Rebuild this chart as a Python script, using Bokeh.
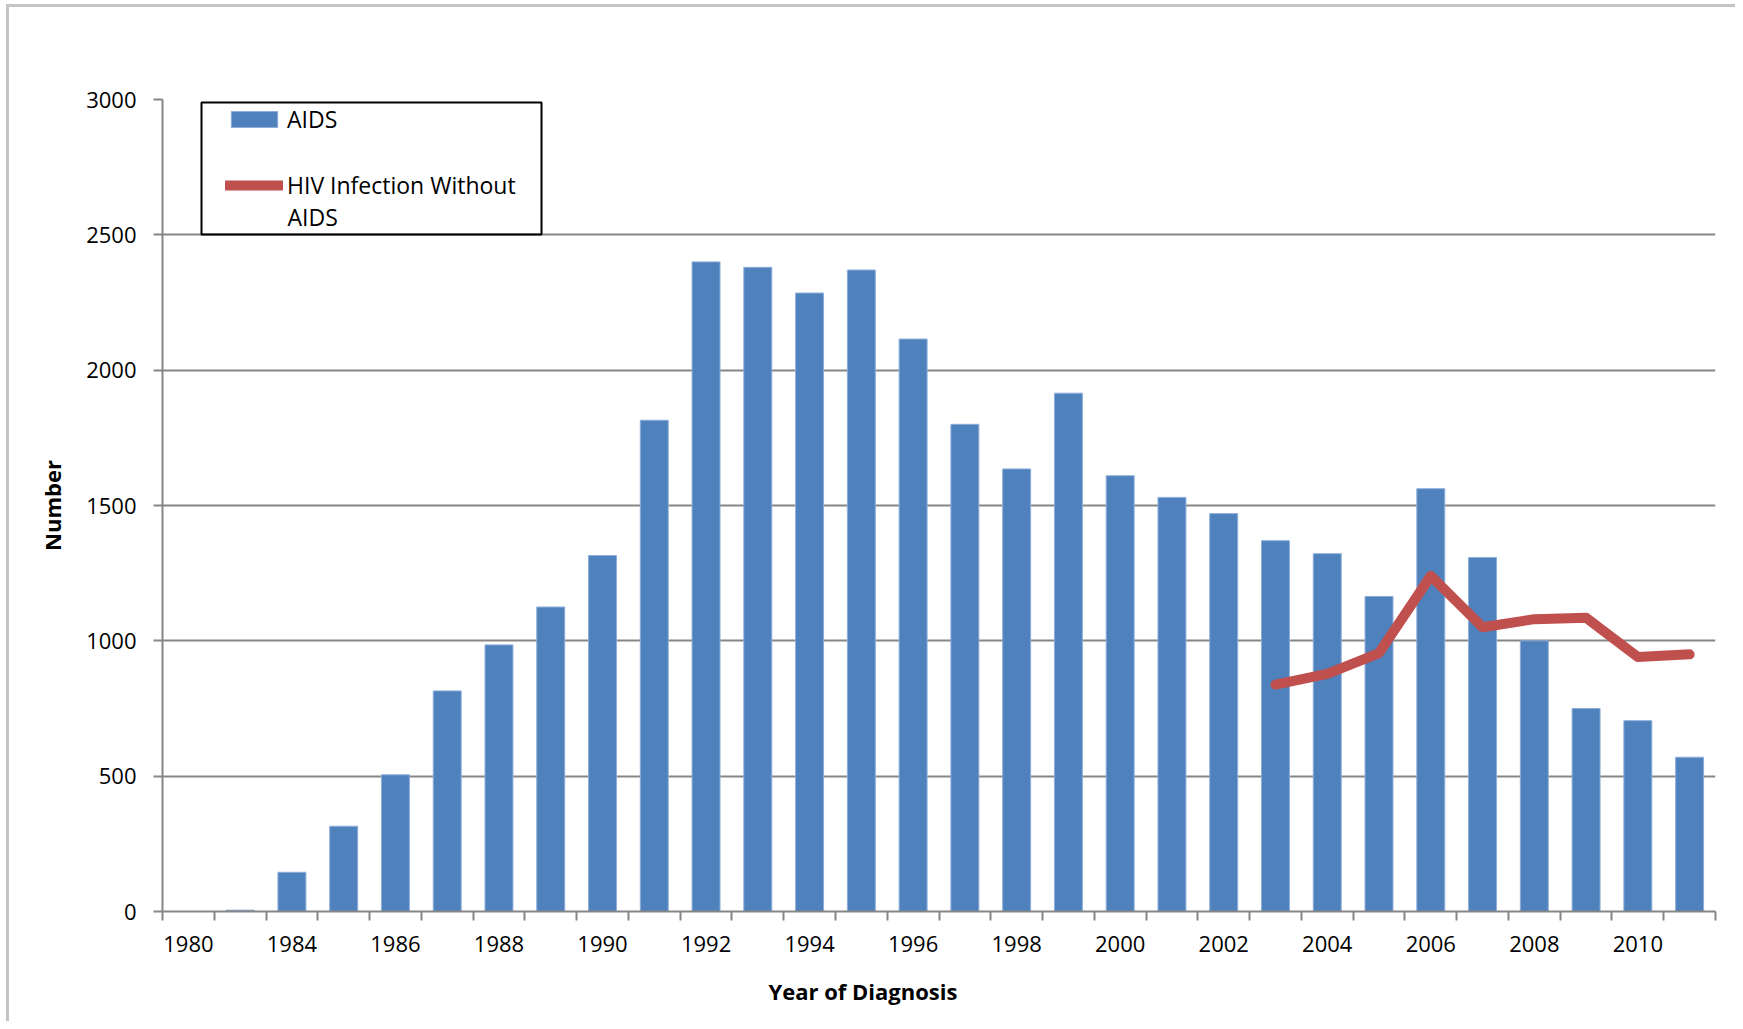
from bokeh.plotting import figure
from bokeh.models import (FactorRange, Range1d, LinearAxis, CategoricalAxis, FixedTicker,
                          Legend, LegendItem, BoxAnnotation, ColumnDataSource,
                          CustomJSTickFormatter, Label, Title)
from bokeh.embed import file_html
from bokeh.resources import INLINE

# ---- data ----
years = ["1980", "1983", "1984", "1985", "1986", "1987", "1988", "1989", "1990", "1991",
         "1992", "1993", "1994", "1995", "1996", "1997", "1998", "1999", "2000", "2001",
         "2002", "2003", "2004", "2005", "2006", "2007", "2008", "2009", "2010", "2011"]
aids = [0, 5, 145, 315, 505, 815, 985, 1125, 1315, 1815,
        2400, 2380, 2285, 2370, 2115, 1800, 1635, 1915, 1610, 1530,
        1470, 1370, 1322, 1164, 1562, 1308, 1000, 750, 705, 570]
hiv_years = ["2003", "2004", "2005", "2006", "2007", "2008", "2009", "2010", "2011"]
hiv = [838, 878, 955, 1240, 1050, 1080, 1085, 940, 950]
y_ticks = [0, 500, 1000, 1500, 2000, 2500, 3000]
hidden_labels = years[1::2]

FONT = "Open Sans"
GRAY = "#868686"

p = figure(width=1735, height=1021,
           x_range=FactorRange(factors=years, range_padding=0, factor_padding=0),
           y_range=Range1d(0, 3000),
           output_backend="svg", toolbar_location=None, x_axis_location=None,
           min_border_left=162, min_border_right=20, min_border_top=99, min_border_bottom=110)
p.outline_line_color = None
p.border_fill_color = None
p.styles = {"box-shadow": "inset 6px 0 0 0 white, inset 0 4px 0 0 white, "
                          "inset 9px 0 0 0 #C4C4C4, inset 0 7px 0 0 #C4C4C4"}
p.xgrid.visible = False
p.ygrid.grid_line_color = GRAY
p.ygrid.grid_line_width = 2
p.ygrid.ticker = FixedTicker(ticks=y_ticks)

# y axis
yax = p.yaxis[0]
yax.ticker = FixedTicker(ticks=y_ticks)
yax.axis_line_color = GRAY
yax.axis_line_width = 2
yax.major_tick_line_color = GRAY
yax.major_tick_line_width = 2
yax.major_tick_out = 9
yax.major_tick_in = 0
yax.minor_tick_line_color = None
yax.major_label_text_font = FONT
yax.major_label_text_font_size = "22px"
yax.major_label_text_color = "black"
yax.major_label_standoff = 17
yax.axis_label = "Number"
yax.axis_label_text_font = FONT
yax.axis_label_text_font_size = "22px"
yax.axis_label_text_font_style = "bold"
yax.axis_label_text_color = "black"
yax.axis_label_standoff = 16

# x axis: boundary ticks
tick_axis = LinearAxis(ticker=FixedTicker(ticks=list(range(len(years) + 1))),
                       formatter=CustomJSTickFormatter(code="return ''"))
tick_axis.axis_line_color = GRAY
tick_axis.axis_line_width = 2
tick_axis.major_tick_line_color = GRAY
tick_axis.major_tick_line_width = 2
tick_axis.major_tick_out = 9
tick_axis.major_tick_in = 0
tick_axis.minor_tick_line_color = None
tick_axis.major_label_standoff = 0
tick_axis.major_label_text_font_size = "1px"
p.add_layout(tick_axis, "below")

# x axis: labels (every other year shown)
lab_axis = CategoricalAxis(
    formatter=CustomJSTickFormatter(args=dict(hidden=hidden_labels),
                                    code="return hidden.includes(tick) ? '' : tick;"))
lab_axis.axis_line_color = None
lab_axis.major_tick_line_color = None
lab_axis.major_label_text_font = FONT
lab_axis.major_label_text_font_size = "22px"
lab_axis.major_label_text_color = "black"
lab_axis.major_label_standoff = 9
# invisible spacer below the year labels
lab_axis.axis_label = "\u00a0"
lab_axis.axis_label_text_font_size = "1px"
lab_axis.axis_label_standoff = 6
p.add_layout(lab_axis, "below")

# x axis title (left of the frame centre, as in the original)
xtitle = Title(text="Year of Diagnosis", align="left", offset=606, standoff=19,
               text_font=FONT, text_font_size="22px", text_font_style="bold",
               text_color="black")
p.add_layout(xtitle, "below")

# data
src = ColumnDataSource(data=dict(year=years, aids=aids))
bars = p.vbar(x="year", top="aids", width=0.54, source=src,
              fill_color="#4F81BD", line_color="#8DAEDA", line_width=1)
hsrc = ColumnDataSource(data=dict(year=hiv_years, hiv=hiv))
line = p.line(x="year", y="hiv", source=hsrc, line_color="#C0504D", line_width=10,
              line_cap="round", line_join="round")

# legend box
p.add_layout(BoxAnnotation(left=201, right=541, top=102, bottom=234,
                           left_units="canvas", right_units="canvas",
                           top_units="canvas", bottom_units="canvas",
                           fill_alpha=0, line_color="black", line_alpha=1, line_width=2,
                           level="annotation"))

def make_legend(item, loc):
    lg = Legend(items=[item], location=loc)
    lg.border_line_color = None
    lg.background_fill_alpha = 0
    lg.padding = 0
    lg.margin = 0
    lg.spacing = 0
    lg.glyph_width = 58
    lg.glyph_height = 20
    lg.label_height = 20
    lg.label_standoff = 4
    lg.label_text_font = FONT
    lg.label_text_font_size = "23px"
    lg.label_text_color = "black"
    lg.label_text_line_height = 1.35
    return lg

p.add_layout(make_legend(LegendItem(label="AIDS", renderers=[bars]), (63, 776)))
p.add_layout(make_legend(LegendItem(label="HIV Infection Without", renderers=[line]), (63, 710)))
p.add_layout(Label(x=287, y=216, x_units="canvas", y_units="canvas", text="AIDS",
                   text_font=FONT, text_font_size="23px", text_color="black",
                   text_baseline="middle", text_align="left"))

open("out.html", "w").write(file_html(p, INLINE))
